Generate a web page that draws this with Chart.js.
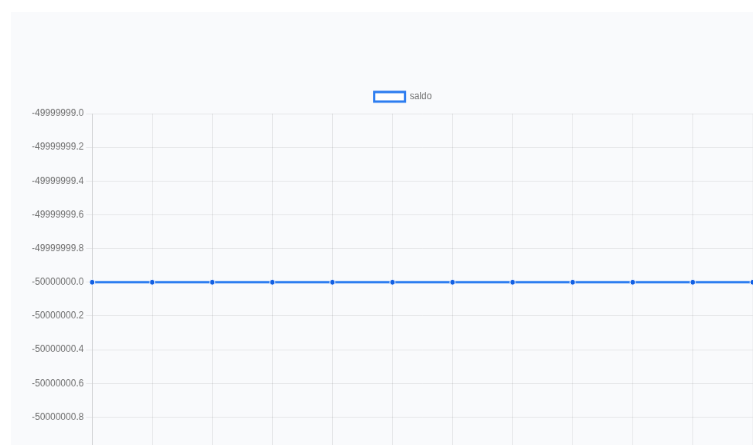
<!DOCTYPE html>
<html>
<head>
<meta charset="utf-8">
<script src="https://cdn.jsdelivr.net/npm/chart.js@4/dist/chart.umd.min.js"></script>
<style>
  html, body { margin: 0; padding: 0; background: #ffffff; overflow: hidden; }
  #panel { position: absolute; left: 11px; top: 12px; width: 900px; height: 600px; background: #f9fafc; }
  #wrap { position: absolute; left: 0; top: 0; transform: scale(0.77, 0.8); transform-origin: 0 0; }
  canvas { display: block; }
</style>
</head>
<body>
<div id="panel"><div id="wrap"><canvas id="c" width="994" height="604"></canvas></div></div>
<script>
const categories = ["Janeiro", "Fevereiro", "Março", "Abril", "Maio", "Junho", "Julho", "Agosto", "Setembro", "Outubro", "Novembro", "Dezembro"];
const saldo = [-50000000, -50000000, -50000000, -50000000, -50000000, -50000000, -50000000, -50000000, -50000000, -50000000, -50000000, -50000000];
const seriesName = "saldo";
const yMin = -50000001;
const yMax = -49999999;
const yStep = 0.2;

Chart.defaults.font.family = '"Liberation Sans", Arial, Helvetica, sans-serif';
Chart.defaults.font.size = 12;
Chart.defaults.color = '#6f6f6f';

const legendGap = {
  id: 'legendGap',
  beforeInit(chart) {
    const lg = chart.legend;
    if (!lg) return;
    const origFit = lg.fit;
    lg.fit = function () { origFit.call(this); this.height += 5; };
  }
};

const lineBlue = 'rgb(45,125,240)';
const pointBlue = 'rgb(18,96,228)';
new Chart(document.getElementById('c'), {
  type: 'line',
  data: {
    labels: categories,
    datasets: [{
      label: seriesName,
      data: saldo,
      borderColor: lineBlue,
      backgroundColor: '#ffffff',
      pointBackgroundColor: pointBlue,
      pointBorderColor: '#ffffff',
      pointBorderWidth: 1,
      borderWidth: 3,
      pointRadius: 3.5,
      fill: false,
      tension: 0
    }]
  },
  plugins: [legendGap],
  options: {
    responsive: false,
    animation: false,
    layout: { padding: { top: 90, left: 24, right: 0, bottom: 27 } },
    plugins: {
      legend: { display: true, position: 'top', labels: { boxWidth: 40, boxHeight: 12, padding: 10 } },
      tooltip: { enabled: false }
    },
    scales: {
      x: {
        grid: { color: 'rgba(0,0,0,0.08)', drawTicks: true, tickLength: 8 },
        border: { color: 'rgba(0,0,0,0.12)' },
        ticks: { maxRotation: 0, autoSkip: false }
      },
      y: {
        min: yMin,
        max: yMax,
        grid: { color: 'rgba(0,0,0,0.08)', tickLength: 8 },
        border: { color: 'rgba(0,0,0,0.12)' },
        ticks: {
          stepSize: yStep,
          callback: (v) => Number(v).toFixed(1)
        }
      }
    }
  }
});
</script>
</body>
</html>
